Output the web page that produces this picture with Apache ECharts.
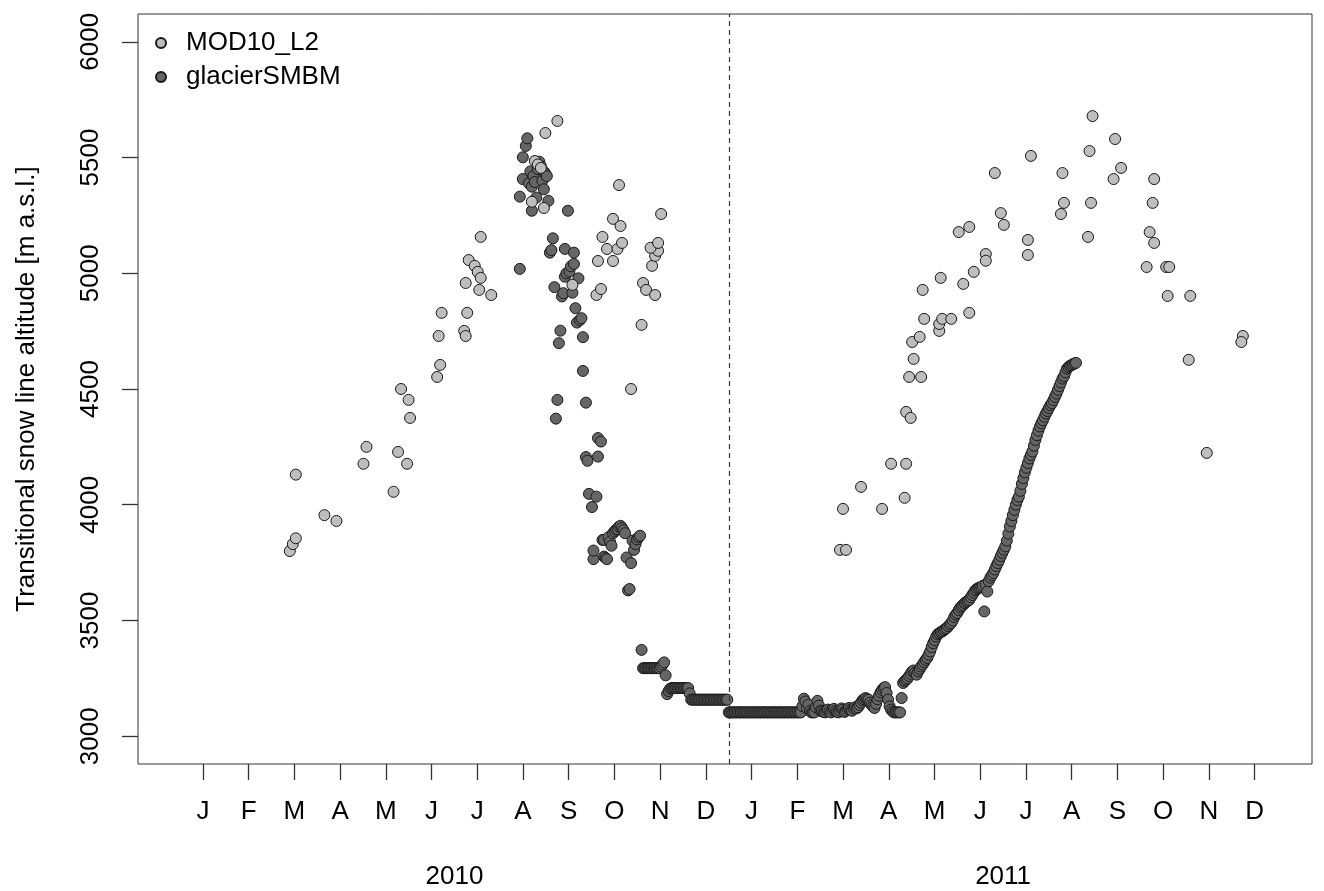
<!DOCTYPE html>
<html>
<head>
<meta charset="utf-8">
<script src="https://cdn.jsdelivr.net/npm/echarts@6/dist/echarts.min.js"></script>
<style>
html,body{margin:0;padding:0;background:#fff;}
#chart{width:1324px;height:891px;}
</style>
</head>
<body>
<div id="chart"></div>
<script>
// x values are days since 2010-01-01 (day 365 = 2011-01-01)
const monthLabels = ['J','F','M','A','M','J','J','A','S','O','N','D','J','F','M','A','M','J','J','A','S','O','N','D'];
const yearLabels = ['2010','2011'];
const yTicks = [3000,3500,4000,4500,5000,5500,6000];
const yearBoundaryDay = 365;
const seriesNames = ['MOD10_L2', 'glacierSMBM'];
const seriesColors = ['#bebebe', '#666666'];

// MOD10_L2 observations: [day, altitude m a.s.l.]
const mod10 = [
  [73,3800],[75,3830],[77,3855],[77,4130],[96,3955],[104,3930],[122,4177],[124,4250],
  [142,4056],[145,4228],[147,4500],[151,4177],[152,4453],[153,4375],[171,4552],[173,4604],
  [172,4729],[174,4829],[189,4751],[190,4729],[191,4829],[190,4958],[192,5057],[196,5032],
  [198,5006],[200,4980],[199,4928],[200,5157],[207,4906],
  [243,5606],[251,5658],[236,5485],[242,5282],[234,5309],[238,5470],[240,5455],
  [261,4950],[277,4906],[280,4932],[278,5053],[288,5053],[284,5105],[291,5105],[281,5157],
  [294,5131],[288,5235],[293,5204],[292,5381],[307,4777],[300,4500],[308,4958],[310,4928],
  [316,4906],[314,5032],[316,5075],[318,5097],[313,5110],[318,5131],[320,5256],
  [439,3805],[443,3805],[441,3982],[453,4077],[467,3982],[473,4177],[482,4030],[483,4177],
  [483,4401],[486,4375],[485,4552],[493,4552],[488,4630],[487,4703],[492,4725],[505,4751],
  [505,4781],[495,4803],[507,4803],[513,4803],[494,4928],[506,4980],[521,4954],[525,4829],
  [528,5006],[536,5083],[536,5054],[518,5178],[525,5200],[542,5433],[546,5260],[548,5209],
  [564,5079],[564,5144],[566,5507],[587,5433],[588,5304],[586,5256],[605,5528],[607,5679],
  [606,5304],[604,5157],[622,5580],[626,5455],[621,5407],[648,5407],[647,5304],[645,5178],
  [648,5131],[643,5027],[656,5027],[658,5027],[657,4902],[672,4902],[671,4626],[683,4224],
  [707,4729],[706,4703]
];

// glacierSMBM, scattered part Aug-Nov 2010: [day, altitude]
const glacierScatter = [
  [226,5019],[226,5331],[228,5407],[228,5501],[230,5550],[231,5583],[232,5389],[233,5440],
  [234,5374],[234,5270],[235,5420],[236,5394],[237,5327],[238,5450],[239,5482],[240,5463],
  [241,5400],[242,5439],[242,5363],[243,5430],[244,5420],[245,5313],[246,5089],[247,5100],
  [248,5151],[249,4940],[250,4372],[251,4453],[252,4698],[253,4752],[254,4900],[255,4914],
  [256,5105],[256,4985],[257,5000],[258,5270],[259,5007],[260,5030],[261,4916],[262,5040],
  [262,5089],[263,4849],[264,4787],[265,4978],[266,4798],[267,4806],[268,4724],[268,4578],
  [270,4441],[270,4206],[271,4190],[272,4047],[274,3990],[275,3765],[275,3802],[277,4035],
  [278,4288],[278,4208],[280,4273],[281,3848],[282,3848],[282,3776],[283,3770],[284,3765],
  [285,3860],[286,3840],[287,3823],[288,3877],[289,3885],[290,3892],[291,3895],[292,3905],
  [293,3909],[294,3900],[295,3890],[296,3877],[297,3772],[298,3630],[299,3636],[300,3748],
  [301,3845],[302,3805],[303,3830],[304,3850],[305,3860],[306,3866]
];

// glacierSMBM, daily values starting at day 307 (2010-11-04)
const glacierDailyStart = 307;
const glacierDaily = [
  3373,3294,3294,3294,3294,3294,3294,3294,3294,3294, // 307-316
  3294,3294,3294,3300,3310,3319,3263,3182,3195,3205, // 317-326
  3208,3208,3208,3208,3208,3208,3208,3208,3208,3208, // 327-336
  3208,3208,3185,3158,3158,3158,3158,3158,3158,3158, // 337-346
  3158,3158,3158,3158,3158,3158,3158,3158,3158,3158, // 347-356
  3158,3158,3158,3158,3158,3158,3158,3158,3103,3103, // 357-366
  3103,3103,3103,3103,3103,3103,3103,3103,3103,3103, // 367-376
  3103,3103,3103,3103,3103,3103,3103,3103,3103,3103, // 377-386
  3103,3103,3103,3103,3103,3103,3103,3103,3103,3103, // 387-396
  3103,3103,3103,3103,3103,3103,3103,3103,3103,3103, // 397-406
  3103,3103,3103,3103,3103,3103,3103,3130,3162,3150, // 407-416
  3120,3136,3110,3103,3103,3103,3125,3153,3132,3110, // 417-426
  3110,3105,3103,3110,3115,3108,3103,3112,3118,3110, // 427-436
  3105,3103,3110,3120,3115,3105,3110,3118,3122,3115, // 437-446
  3110,3120,3125,3120,3125,3135,3145,3155,3160,3165, // 447-456
  3160,3158,3145,3135,3128,3122,3140,3160,3175,3190, // 457-466
  3200,3208,3212,3187,3158,3129,3115,3107,3103,3103, // 467-476
  3103,3103,3103,3165,3230,3238,3244,3250,3260,3270, // 477-486
  3280,3284,3275,3266,3280,3290,3301,3310,3320,3330, // 487-496
  3338,3352,3366,3385,3402,3415,3430,3440,3445,3450, // 497-506
  3452,3458,3463,3467,3475,3482,3489,3500,3515,3525, // 507-516
  3532,3545,3555,3562,3568,3575,3580,3585,3589,3600, // 517-526
  3610,3620,3630,3636,3640,3642,3645,3650,3539,3655, // 527-536
  3625,3670,3685,3695,3705,3720,3735,3748,3762,3778, // 537-546
  3792,3806,3820,3845,3875,3906,3930,3955,3978,4000, // 547-556
  4020,4035,4060,4090,4115,4140,4160,4180,4200,4215, // 557-566
  4230,4255,4280,4300,4320,4338,4352,4365,4380,4394, // 567-576
  4405,4418,4430,4439,4452,4466,4480,4496,4512,4528, // 577-586
  4545,4555,4572,4588,4595,4600,4603,4607,4610,4613  // 587-596
];

const monthLen = 365 / 12;
const monthTickDays = monthLabels.map((_, i) => (i + 0.5) * monthLen);
const yearLabelDays = yearLabels.map((_, i) => i * 365 + 182.5);

const glacierData = glacierScatter.concat(glacierDaily.map((v, i) => [glacierDailyStart + i, v]));

const FONT = 'Liberation Sans, Arial, Helvetica, sans-serif';
const AXC = '#333';

const chart = echarts.init(document.getElementById('chart'), null, {renderer: 'canvas'});
chart.setOption({
  animation: false,
  backgroundColor: '#fff',
  textStyle: {fontFamily: FONT},
  grid: {left: 138, top: 14, right: 12, bottom: 127, show: true, borderColor: AXC, borderWidth: 1, backgroundColor: 'transparent'},
  legend: {
    data: [{name: seriesNames[0], icon: 'circle'}, {name: seriesNames[1], icon: 'circle'}],
    orient: 'vertical', left: 155, top: 30, padding: 0,
    itemWidth: 10, itemHeight: 10, itemGap: 8,
    textStyle: {fontSize: 26, fontFamily: FONT, color: '#000', padding: [0, 0, 0, 15]}
  },
  xAxis: [{
    type: 'value', min: -28, max: 753,
    axisLine: {show: false, onZero: false},
    splitLine: {show: false},
    axisTick: {show: true, length: 16, inside: false, lineStyle: {color: AXC, width: 1.3}, customValues: monthTickDays},
    axisLabel: {
      customValues: monthTickDays, margin: 35, fontSize: 26, color: '#000', fontFamily: FONT,
      formatter: v => monthLabels[Math.round(v / monthLen - 0.5)] || ''
    }
  }, {
    type: 'value', min: -28, max: 753, position: 'bottom',
    axisLine: {show: false, onZero: false}, axisTick: {show: false}, splitLine: {show: false},
    axisLabel: {
      customValues: yearLabelDays, margin: 100, fontSize: 26, color: '#000', fontFamily: FONT,
      formatter: v => yearLabels[Math.round((v - 182.5) / 365)] || ''
    }
  }],
  yAxis: {
    type: 'value', min: 2880, max: 6120,
    axisLine: {show: false, onZero: false}, splitLine: {show: false},
    axisTick: {show: true, length: 16, lineStyle: {color: AXC, width: 1.3}, customValues: yTicks},
    axisLabel: {customValues: yTicks, rotate: 90, margin: 34, fontSize: 26, color: '#000', fontFamily: FONT,
      formatter: v => String(Math.round(v))},
    name: 'Transitional snow line altitude [m a.s.l.]',
    nameLocation: 'middle', nameRotate: 90, nameGap: 98,
    nameTextStyle: {fontSize: 26, color: '#000', fontFamily: FONT}
  },
  series: [{
    name: 'boundary', type: 'line', data: [], symbol: 'none',
    markLine: {
      silent: true, symbol: ['none', 'none'], label: {show: false},
      lineStyle: {type: [5, 4], color: AXC, width: 1.2},
      data: [{xAxis: yearBoundaryDay}]
    }
  }, {
    name: seriesNames[1], type: 'scatter', symbol: 'circle', symbolSize: 11,
    itemStyle: {color: seriesColors[1], borderColor: '#1a1a1a', borderWidth: 1, opacity: 1},
    data: glacierData
  }, {
    name: seriesNames[0], type: 'scatter', symbol: 'circle', symbolSize: 11,
    itemStyle: {color: seriesColors[0], borderColor: '#1a1a1a', borderWidth: 1, opacity: 1},
    data: mod10
  }]
});
</script>
</body>
</html>
